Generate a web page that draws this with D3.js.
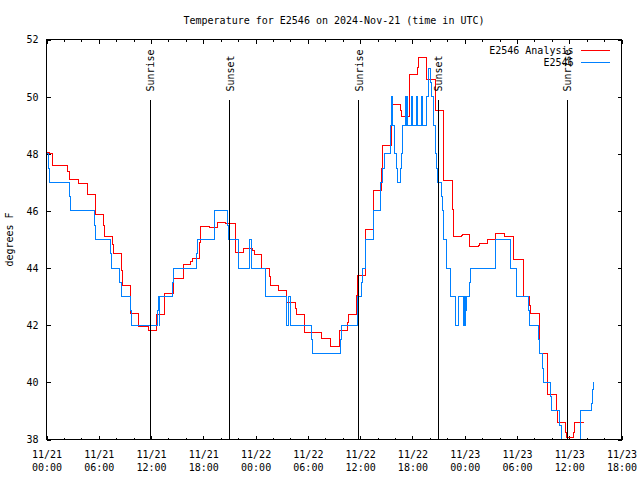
<!DOCTYPE html>
<html><head><meta charset="utf-8">
<script src="https://cdn.jsdelivr.net/npm/d3@7"></script>
<style>
body{margin:0;background:#fff}
svg{display:block;background:#fff}
text{font-family:"DejaVu Sans Mono",monospace;font-size:10px;fill:#000}
</style></head><body>
<svg id="chart" width="640" height="480"></svg>
<script>
// ---------- data ----------
const titleText = "Temperature for E2546 on 2024-Nov-21 (time in UTC)";
const yLabelText = "degrees F";
const seriesNames = ["E2546 Analysis", "E2546"];
const seriesColors = ["#ff0000", "#0080ff"];

// hours since 2024-11-21 00:00 UTC
const tickHours = [0, 6, 12, 18, 24, 30, 36, 42, 48, 54, 60, 66];
const minorHours = [2, 4, 8, 10, 14, 16, 20, 22, 26, 28, 32, 34, 38, 40, 44, 46, 50, 52, 56, 58, 62, 64];
const tickDates = ["11/21","11/21","11/21","11/21","11/22","11/22","11/22","11/22","11/23","11/23","11/23","11/23"];
const tickTimes = ["00:00","06:00","12:00","18:00","00:00","06:00","12:00","18:00","00:00","06:00","12:00","18:00"];
const yTicks = [38, 40, 42, 44, 46, 48, 50, 52];

const sunHours = [11.89, 21.02, 35.82, 44.99, 59.78];
const sunLabels = ["Sunrise", "Sunset", "Sunrise", "Sunset", "Sunrise"];

// E2546 Analysis (red)
const analysisHours = [0, 0.3, 0.69, 2.45, 2.67, 3.67, 4.66, 5.62, 6.57, 6.65, 7.6, 7.68, 8.64, 8.71, 9.59,
  10.6, 11.72, 12.65, 13.6, 14.63, 15.67, 16.51, 16.78, 17.55, 17.65, 18.69, 19.65, 20.6, 21.67, 21.74,
  22.62, 23.69, 23.89, 24.65, 25.56, 25.72, 26.63, 27.59, 28.55, 28.66, 29.61, 31.6, 32.63, 33.63, 34.55,
  34.66, 35.62, 35.7, 36.57, 36.65, 37.53, 38.49, 38.6, 39.63, 40.66, 40.77, 41.65, 42.6, 42.68, 43.64,
  44.6, 45.55, 46.62, 46.7, 47.58, 47.73, 48.53, 48.61, 49.56, 49.67, 50.59, 51.55, 52.58, 53.58, 53.65,
  54.72, 55.48, 55.6, 56.55, 57.51, 58.5, 58.62, 59.57, 59.65, 60.53, 60.6, 61.67];
const analysisTemps = [48.05, 48.0, 47.6, 47.38, 47.1, 46.97, 46.56, 45.88, 45.5, 45.12, 44.83, 44.52, 43.93, 43.39, 42.4,
  41.95, 41.8, 42.38, 43.12, 43.64, 44.14, 44.23, 44.35, 44.9, 45.45, 45.41, 45.6, 45.55, 45.0, 44.56,
  44.68, 44.6, 44.47, 43.97, 43.7, 43.4, 43.22, 42.78, 42.58, 42.36, 41.76, 41.52, 41.25, 41.8, 42.08,
  42.36, 43.04, 43.74, 44.5, 45.35, 46.7, 47.5, 48.3, 49.72, 49.5, 49.3, 50.78, 51.03, 51.36, 50.6,
  49.5, 47.05, 46.05, 45.1, 45.14, 45.17, 44.9, 44.75, 44.8, 44.85, 45.0, 45.2, 45.1, 44.6, 44.3,
  43.0, 42.7, 42.4, 41.0, 39.56, 39.0, 38.58, 38.26, 38.06, 38.26, 38.58, 38.58];

// E2546 observations (blue)
const obsHours = [0, 0.27, 0.38, 2.6, 2.75, 5.5, 5.6, 7.37, 7.5, 8.4, 8.56, 9.63, 9.7, 12.69, 12.84, 12.92,
  12.99, 14.48, 14.6, 17.2, 17.35, 19.3, 20.8, 20.9, 22.0, 23.27, 23.5, 25.1, 27.51, 27.82, 28.0, 30.45,
  30.55, 33.74, 33.85, 35.7, 36.15, 36.25, 36.65, 37.5, 38.3, 38.55, 38.75, 39.45, 39.55, 39.7, 39.95,
  40.15, 40.3, 40.62, 40.72, 40.85, 41.16, 41.27, 41.38, 41.45, 41.92, 42.03, 42.49, 42.6, 43.06, 43.15,
  43.64, 43.8, 43.9, 44.05, 44.15, 44.4, 44.6, 44.79, 44.9, 45.36, 45.47, 45.55, 45.6, 45.86, 46.39,
  46.89, 47.27, 47.84, 47.98, 48.07, 48.15, 48.23, 48.61, 48.72, 51.55, 53.31, 53.96, 55.37, 55.49,
  56.44, 56.55, 56.94, 57.01, 57.89, 57.97, 58.93, 59.1, 61.3, 62.55, 62.63, 62.75];
const obsTemps = [48, 47.5, 47, 46.5, 46, 45.5, 45, 44.5, 44, 43.5, 43, 42.5, 42, 42.5, 43, 42,
  43, 43.5, 44, 44.5, 45, 46, 45.5, 45, 44, 45, 44, 43, 42, 43, 42, 41.5,
  41, 41.5, 42, 43, 43.5, 44, 45, 46, 47, 47.5, 48, 49, 50, 49, 48,
  47.5, 47, 47.5, 48, 49, 50, 49, 50, 49, 50, 49, 50, 49, 50, 49,
  50, 50.5, 51, 50.5, 50, 49, 48, 47.5, 47, 46.5, 46, 45.5, 45, 44, 43,
  42, 43, 42, 43, 42, 42.5, 43, 43.5, 44, 45, 44, 43, 42.5, 42,
  41.5, 41, 40.5, 40, 39.5, 39, 38.5, 37.5, 39, 39.25, 39.75, 40];

// ---------- chart ----------
const svg = d3.select("#chart");
const x = d3.scaleLinear().domain([0, 66]).range([46.5, 621.5]);
const y = d3.scaleLinear().domain([38, 52]).range([439.5, 39.5]);
const [x0, x1] = x.range();
const [yB, yT] = y.range();
const gpy = f => yB + f * (yT - yB); // graph coordinates

svg.append("defs").append("clipPath").attr("id", "plotclip")
  .append("rect").attr("x", x0).attr("y", yT).attr("width", x1 - x0).attr("height", yB - yT);

function clean(g) { g.select(".domain").remove(); g.selectAll("line").attr("shape-rendering", "crispEdges"); }

// bottom axis
const gBottom = svg.append("g").attr("transform", `translate(0,${yB})`)
  .call(d3.axisBottom(x).tickValues(tickHours).tickSize(-4).tickFormat(() => ""))
  .call(clean);
gBottom.selectAll(".tick text").remove();
gBottom.selectAll(".tick").each(function (d, i) {
  const t = d3.select(this).append("text").attr("text-anchor", "middle");
  t.append("tspan").attr("x", 0).attr("y", 18.5).text(tickDates[i]);
  t.append("tspan").attr("x", 0).attr("y", 31.5).text(tickTimes[i]);
});
svg.append("g").attr("transform", `translate(0,${yB})`)
  .call(d3.axisBottom(x).tickValues(minorHours).tickSize(-2).tickFormat(() => ""))
  .call(clean).selectAll("text").remove();
// top axis (mirror)
svg.append("g").attr("transform", `translate(0,${yT})`)
  .call(d3.axisTop(x).tickValues(tickHours).tickSize(-4).tickFormat(() => ""))
  .call(clean).selectAll("text").remove();
svg.append("g").attr("transform", `translate(0,${yT})`)
  .call(d3.axisTop(x).tickValues(minorHours).tickSize(-2).tickFormat(() => ""))
  .call(clean).selectAll("text").remove();
// left axis
const gLeft = svg.append("g").attr("transform", `translate(${x0},0)`)
  .call(d3.axisLeft(y).tickValues(yTicks).tickSize(-4).tickPadding(8).tickFormat(d3.format("d")))
  .call(clean);
gLeft.selectAll(".tick text").attr("dy", "0.34em");
// right axis (mirror)
svg.append("g").attr("transform", `translate(${x1},0)`)
  .call(d3.axisRight(y).tickValues(yTicks).tickSize(-4).tickFormat(() => ""))
  .call(clean).selectAll("text").remove();

// data lines
const line = d3.line().x(d => x(d[0])).y(d => y(d[1])).curve(d3.curveStepAfter);
const gData = svg.append("g").attr("clip-path", "url(#plotclip)");
const series = [
  d3.zip(analysisHours, analysisTemps),
  d3.zip(obsHours, obsTemps)
];
series.forEach((s, i) => {
  gData.append("path").datum(s).attr("d", line)
    .attr("fill", "none").attr("stroke", seriesColors[i]).attr("stroke-width", 1)
    .attr("shape-rendering", "crispEdges");
});

// sunrise / sunset markers
sunHours.forEach((h, i) => {
  svg.append("line").attr("x1", x(h)).attr("x2", x(h)).attr("y1", yB).attr("y2", gpy(0.85))
    .attr("stroke", "#000").attr("stroke-width", 1).attr("shape-rendering", "crispEdges");
  svg.append("text").attr("transform", `translate(${x(h) + 4},${gpy(0.87)}) rotate(-90)`)
    .attr("text-anchor", "start").text(sunLabels[i]);
});

// border
svg.append("rect").attr("x", x0).attr("y", yT).attr("width", x1 - x0).attr("height", yB - yT)
  .attr("fill", "none").attr("stroke", "#000").attr("stroke-width", 1).attr("shape-rendering", "crispEdges");

// title and axis label
svg.append("text").attr("x", (x0 + x1) / 2).attr("y", 23.5).attr("text-anchor", "middle").text(titleText);
svg.append("text").attr("transform", `translate(13,${(yT + yB) / 2}) rotate(-90)`)
  .attr("text-anchor", "middle").text(yLabelText);

// legend
seriesNames.forEach((n, i) => {
  const ly = 50.5 + i * 12;
  svg.append("text").attr("x", 573.5).attr("y", ly + 3.5).attr("text-anchor", "end").text(n);
  svg.append("line").attr("x1", 581).attr("x2", 610).attr("y1", ly).attr("y2", ly)
    .attr("stroke", seriesColors[i]).attr("stroke-width", 1).attr("shape-rendering", "crispEdges");
});
</script>
</body></html>
